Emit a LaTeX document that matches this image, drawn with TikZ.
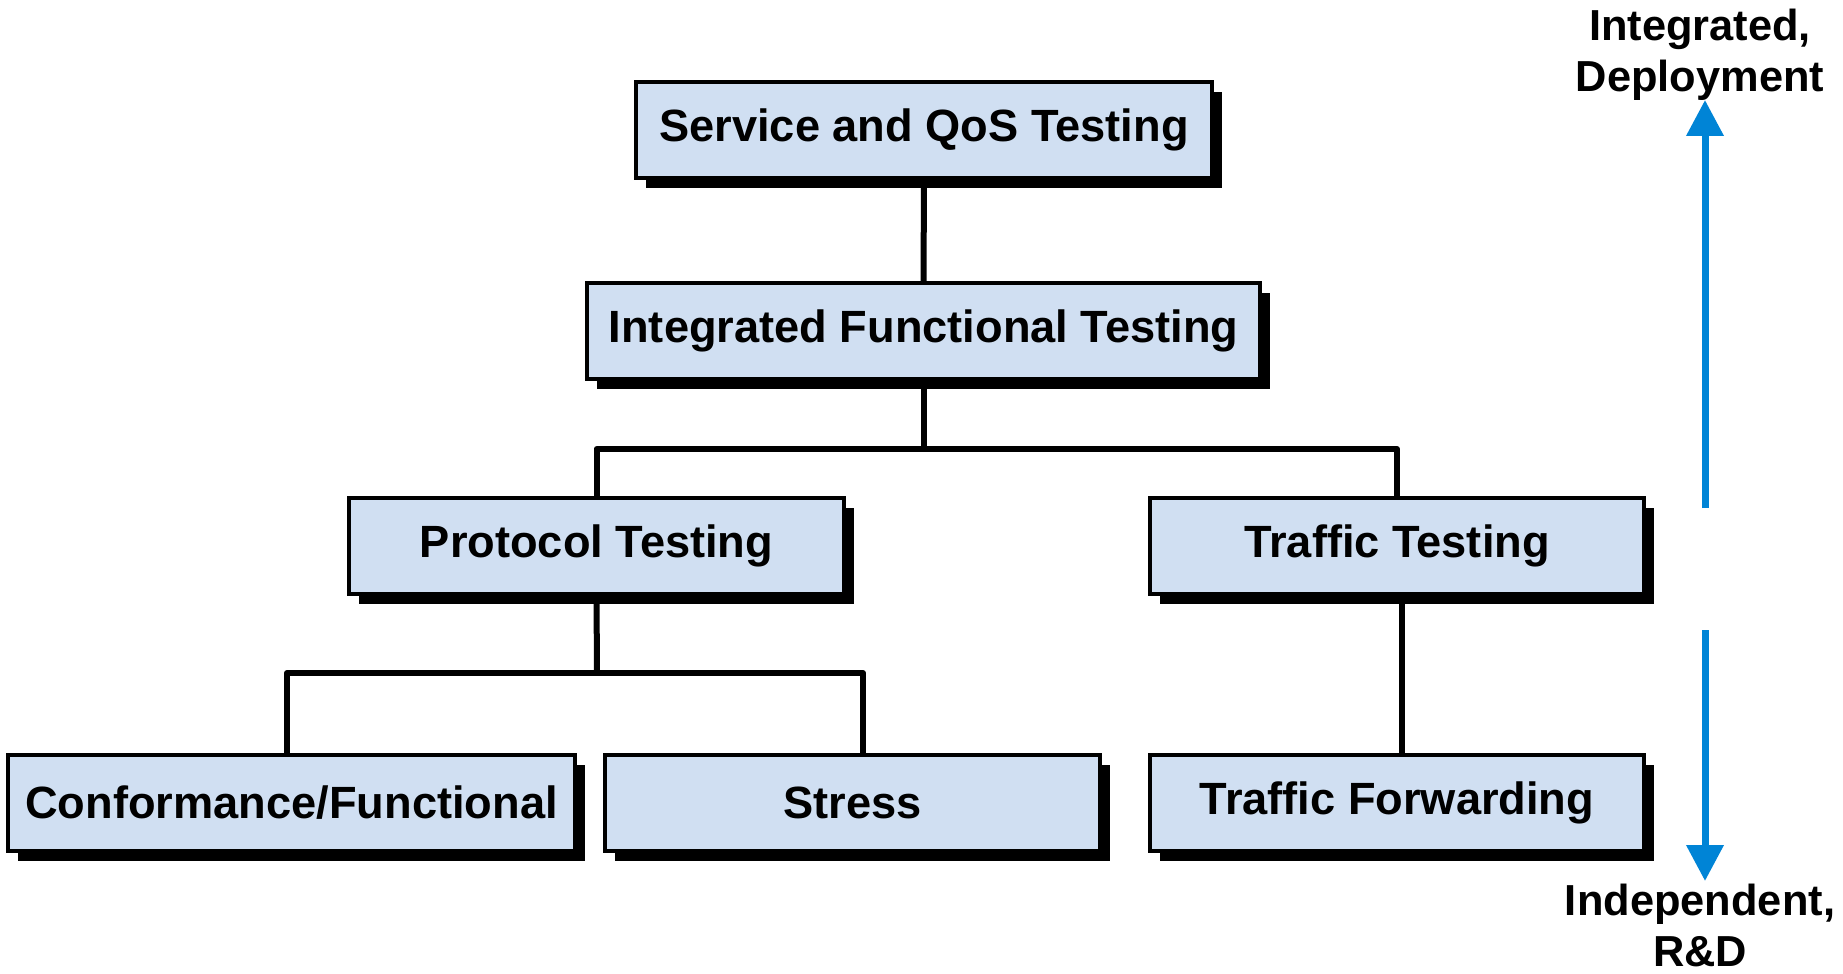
\documentclass[tikz,border=0pt]{standalone}
\usepackage{fontspec}
\setmainfont{Liberation Sans}
\usetikzlibrary{shadows,arrows.meta}
\definecolor{boxfill}{RGB}{208,223,242}
\definecolor{arrowblue}{RGB}{0,132,214}
\tikzset{
  tbox/.style={draw=black, line width=2.2pt, fill=boxfill, rectangle, inner sep=0pt,
    minimum height=48pt, font=\fontsize{22.6}{26}\selectfont\bfseries,
    drop shadow={shadow xshift=5pt, shadow yshift=-5pt, fill=black, opacity=1}},
  conn/.style={draw=black, line width=3pt, line join=round},
  updown/.style={draw=arrowblue, line width=3.5pt, -{Triangle[length=18pt,width=18pt]}},
  lbl/.style={align=center, font=\fontsize{21.7}{25.5}\selectfont\bfseries, inner sep=0pt}
}
\begin{document}
\begin{tikzpicture}[x=0.5pt,y=-0.5pt]
\useasboundingbox (0,0) rectangle (1843,974);
\node[tbox, minimum width=288pt] (svc) at (924,130) {Service and QoS Testing};
\node[tbox, minimum width=336.5pt] (ift) at (923.5,331) {Integrated Functional Testing};
\node[tbox, minimum width=247.5pt] (prot) at (596.5,546) {Protocol Testing};
\node[tbox, minimum width=247pt] (traf) at (1397,546) {Traffic Testing};
\node[tbox, minimum width=283.5pt] (conf) at (291.5,803) {Conformance/Functional};
\node[tbox, minimum width=247.5pt] (stress) at (852.5,803) {Stress};
\node[tbox, minimum width=247pt] (tf) at (1397,803) {Traffic Forwarding};

\coordinate (j1) at (923.5,449);
\coordinate (j2) at (597,673);
\draw[conn] (svc.south) -- (ift.north);
\draw[conn] (ift.south) -- (j1);
\draw[conn] (prot.north) |- (j1) -| (traf.north);
\draw[conn] (prot.south) -- (j2);
\draw[conn] ([xshift=-2.25pt]conf.north) |- (j2) -| ([xshift=5.25pt]stress.north);
\draw[conn] ([xshift=2.5pt]traf.south) -- ([xshift=2.5pt]tf.north);

\node[lbl] (top) at (1700,55) {Integrated,\\Deployment};
\node[lbl] (bot) at (1700,925) {Independent,\\R\&D};
\coordinate (upstart) at (1705,508);
\coordinate (downstart) at (1705,630);
\draw[updown] (upstart) -- (1705,100);
\draw[updown] (downstart) -- (1705,881);
\end{tikzpicture}
\end{document}
